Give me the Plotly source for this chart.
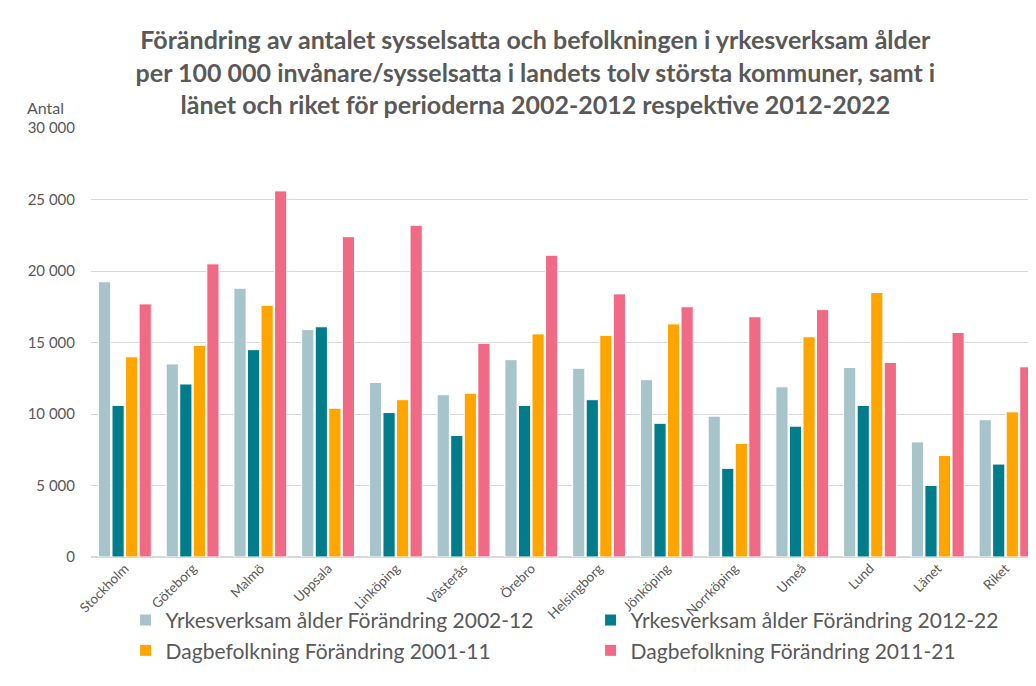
import plotly.graph_objects as go

# kommuner + län + riket
places = ['Stockholm', 'Göteborg', 'Malmö', 'Uppsala', 'Linköping', 'Västerås', 'Örebro',
          'Helsingborg', 'Jönköping', 'Norrköping', 'Umeå', 'Lund', 'Länet', 'Riket']

yrk_02_12 = [19250, 13500, 18800, 15900, 12200, 11350, 13800, 13200, 12400, 9850, 11900, 13250, 8050, 9600]
yrk_12_22 = [10600, 12100, 14500, 16100, 10100, 8500, 10600, 11000, 9350, 6200, 9150, 10600, 5000, 6500]
dag_01_11 = [14000, 14800, 17600, 10400, 11000, 11450, 15600, 15500, 16300, 7950, 15400, 18500, 7100, 10150]
dag_11_21 = [17700, 20500, 25600, 22400, 23200, 14950, 21100, 18400, 17500, 16800, 17300, 13600, 15700, 13300]

series = [
    ('Yrkesverksam ålder Förändring 2002-12', yrk_02_12, '#A7C4CA'),
    ('Yrkesverksam ålder Förändring 2012-22', yrk_12_22, '#007C8A'),
    ('Dagbefolkning Förändring 2001-11', dag_01_11, '#FFA500'),
    ('Dagbefolkning Förändring 2011-21', dag_11_21, '#F06A85'),
]

gray = '#595959'
fnt = 'Lato'

fig = go.Figure()
for name, vals, col in series:
    fig.add_trace(go.Bar(
        x=places, y=vals, name=name,
        marker=dict(color=col, line=dict(color='white', width=1)),
    ))

# page body adds 8px, so the figure is 8px smaller than the window
fig.update_layout(
    width=1028, height=678,
    margin=dict(l=83, r=0, t=120, b=129, autoexpand=False),
    paper_bgcolor='white', plot_bgcolor='white',
    barmode='group', bargap=0.2, bargroupgap=0.1,
    separators=', ',
    font=dict(family=fnt, color=gray, size=15),
    title=dict(
        text='<b>Förändring av antalet sysselsatta och befolkningen i yrkesverksam ålder<br>'
             'per 100 000 invånare/sysselsatta i landets tolv största kommuner, samt i<br>'
             'länet och riket för perioderna 2002-2012 respektive 2012-2022</b>',
        x=0.513, xanchor='center', y=0.939, yanchor='top',
        font=dict(family=fnt, size=25, color=gray),
    ),
    legend=dict(
        orientation='h', xref='container', x=0.1144, xanchor='left',
        yref='container', y=0.127, yanchor='top',
        entrywidth=420, bgcolor='rgba(0,0,0,0)',
        font=dict(family=fnt, size=21, color=gray),
        traceorder='normal',
    ),
    showlegend=True,
)

fig.update_xaxes(
    tickangle=-45, tickfont=dict(size=13.5, color=gray), automargin=False,
    range=[-0.5, 13.45], showgrid=False, showline=False,
)
fig.update_yaxes(
    range=[0, 30000], dtick=5000, tickformat=',d', automargin=False,
    gridcolor='#D9D9D9', gridwidth=1, zeroline=True, zerolinecolor='#D9D9D9',
    tickfont=dict(size=15, color=gray), ticklabelstandoff=15,
)

fig.add_annotation(
    text='Antal', xref='paper', yref='paper', x=-0.07, y=1.0, xanchor='left', yanchor='bottom',
    showarrow=False, font=dict(family=fnt, size=16, color=gray), yshift=9,
)

fig.write_html('out.html')
